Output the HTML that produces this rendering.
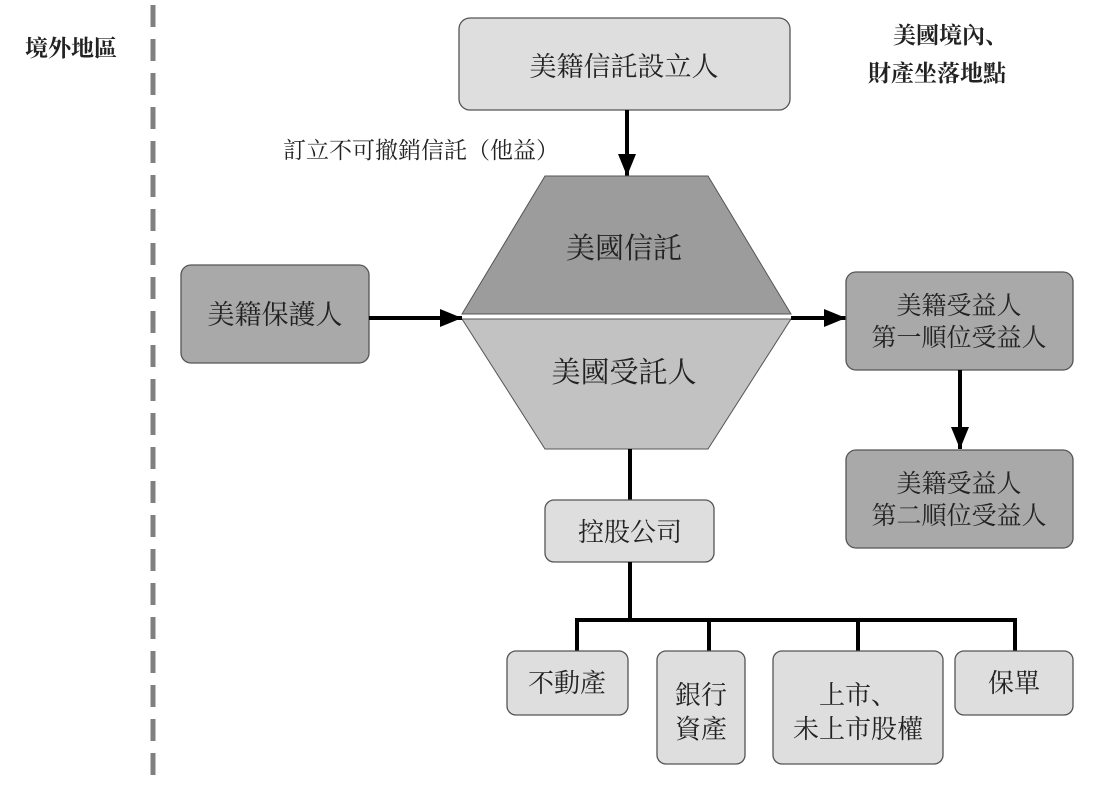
<!DOCTYPE html>
<html><head><meta charset="utf-8"><style>
body{margin:0;background:#fff}
svg text{font-family:"Liberation Serif","Noto Serif CJK SC","Noto Serif CJK TC","Noto Sans CJK TC",serif;fill:#222}
</style></head><body>
<svg width="1095" height="781" viewBox="0 0 1095 781" xmlns="http://www.w3.org/2000/svg">
<defs>
<marker id="b" markerWidth="22" markerHeight="18" refX="22" refY="9" orient="auto" markerUnits="userSpaceOnUse"><path d="M0,0 L22,9 L0,18 Z" fill="#000"/></marker></defs>
<line x1="153" y1="5" x2="153" y2="781" stroke="#808080" stroke-width="5" stroke-dasharray="22,12"/>
<text x="25" y="56" font-size="23" font-weight="bold">境外地區</text>
<text x="893" y="43" font-size="23" font-weight="bold">美國境內、</text>
<text x="868" y="81" font-size="23" font-weight="bold">財產坐落地點</text>
<text x="283" y="158" font-size="23">訂立不可撤銷信託（他益）</text>
<rect x="459" y="18" width="331" height="92" rx="11" fill="#dedede" stroke="#555" stroke-width="1.3"/>
<text x="624" y="76" font-size="27" text-anchor="middle" fill="#444">美籍信託設立人</text>
<line x1="627" y1="110" x2="627" y2="176" stroke="#000" stroke-width="4" marker-end="url(#b)"/>
<polygon points="545,176 708,176 791,314 462,314" fill="#9c9c9c" stroke="#555" stroke-width="1"/>
<polygon points="462,319 791,319 708,449 545,449" fill="#c2c2c2" stroke="#555" stroke-width="1"/>
<text x="624" y="258" font-size="29" text-anchor="middle">美國信託</text>
<text x="624" y="382" font-size="29" text-anchor="middle">美國受託人</text>
<rect x="181" y="265" width="188" height="98" rx="10" fill="#a9a9a9" stroke="#555" stroke-width="1.3"/>
<text x="275" y="324" font-size="27" text-anchor="middle">美籍保護人</text>
<line x1="369" y1="318" x2="462" y2="318" stroke="#000" stroke-width="4" marker-end="url(#b)"/>
<line x1="791" y1="318" x2="846" y2="318" stroke="#000" stroke-width="4" marker-end="url(#b)"/>
<rect x="846" y="272" width="227" height="98" rx="10" fill="#a9a9a9" stroke="#555" stroke-width="1.3"/>
<text x="959" y="314" font-size="25" text-anchor="middle">美籍受益人</text>
<text x="959" y="346" font-size="25" text-anchor="middle">第一順位受益人</text>
<line x1="960" y1="370" x2="960" y2="449" stroke="#000" stroke-width="4" marker-end="url(#b)"/>
<rect x="846" y="450" width="227" height="98" rx="10" fill="#a9a9a9" stroke="#555" stroke-width="1.3"/>
<text x="959" y="492" font-size="25" text-anchor="middle">美籍受益人</text>
<text x="959" y="524" font-size="25" text-anchor="middle">第二順位受益人</text>
<line x1="630" y1="449" x2="630" y2="500" stroke="#000" stroke-width="4"/>
<rect x="545" y="500" width="169" height="62" rx="9" fill="#dedede" stroke="#555" stroke-width="1.3"/>
<text x="630" y="541" font-size="26" text-anchor="middle" fill="#333">控股公司</text>
<path d="M630,562 V620 M577,620 H1015 M577,618 V651 M709,618 V651 M858,618 V651 M1015,618 V651" stroke="#000" stroke-width="4" fill="none"/>
<rect x="507" y="651" width="121" height="64" rx="9" fill="#dedede" stroke="#555" stroke-width="1.3"/>
<text x="567" y="692" font-size="26" text-anchor="middle" fill="#444">不動產</text>
<rect x="657" y="651" width="88" height="113" rx="9" fill="#dedede" stroke="#555" stroke-width="1.3"/>
<text x="701" y="704" font-size="26" text-anchor="middle" fill="#444">銀行</text>
<text x="701" y="738" font-size="26" text-anchor="middle" fill="#444">資產</text>
<rect x="773" y="651" width="170" height="113" rx="9" fill="#dedede" stroke="#555" stroke-width="1.3"/>
<text x="858" y="704" font-size="26" text-anchor="middle" fill="#444">上市、</text>
<text x="858" y="738" font-size="26" text-anchor="middle" fill="#444">未上市股權</text>
<rect x="955" y="651" width="118" height="64" rx="9" fill="#dedede" stroke="#555" stroke-width="1.3"/>
<text x="1014" y="692" font-size="26" text-anchor="middle" fill="#444">保單</text>
</svg>
</body></html>
